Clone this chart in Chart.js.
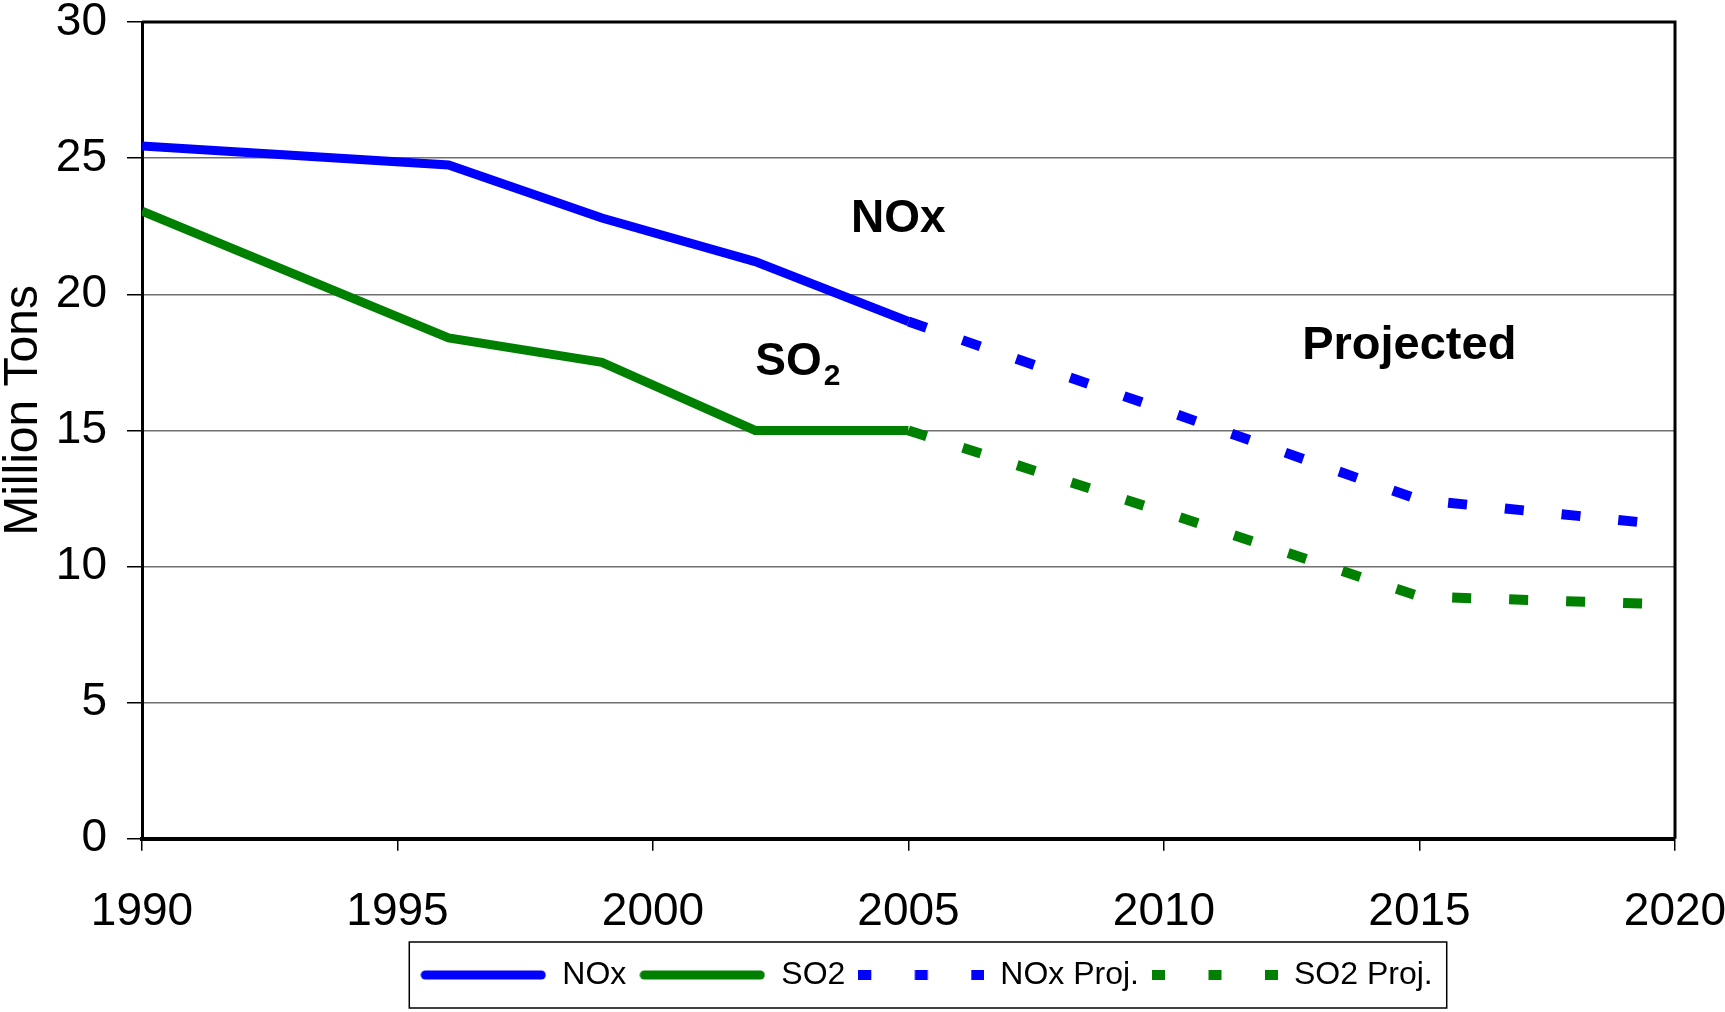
<!DOCTYPE html>
<html>
<head>
<meta charset="utf-8">
<script src="https://cdn.jsdelivr.net/npm/chart.js@4.4.1/dist/chart.umd.min.js"></script>
<style>
html,body{margin:0;padding:0;background:#fff;}
</style>
</head>
<body>
<canvas id="myChart" width="1725" height="1012"></canvas>
<script>
var histYears = [1990, 1996, 1999, 2002, 2005];
var noxValues = [25.45, 24.75, 22.8, 21.2, 19.0];
var so2Values = [23.05, 18.4, 17.5, 15.0, 15.0];
var projYears = [2005, 2010, 2015, 2020];
var noxProj = [19.0, 15.75, 12.45, 11.5];
var so2Proj = [15.0, 12.0, 8.9, 8.6];
var xTicks = [1990, 1995, 2000, 2005, 2010, 2015, 2020];
var yTicks = [0, 5, 10, 15, 20, 25, 30];
var seriesNames = ["NOx", "SO2", "NOx Proj.", "SO2 Proj."];

var blue = "#0000ff";
var green = "#008000";
var fam = '"Liberation Sans", Arial, sans-serif';
Chart.defaults.font.family = fam;

function pts(xs, ys){
  return xs.map(function(x, i){ return {x: x, y: ys[i]}; });
}

// little line samples for the legend (solid or dashed)
function sample(color, dashed){
  var c = document.createElement('canvas');
  c.width = 126; c.height = 14;
  var g = c.getContext('2d');
  g.strokeStyle = color;
  if (dashed) {
    g.lineWidth = 10; g.lineCap = 'butt'; g.setLineDash([13, 43.5]);
    g.beginPath(); g.moveTo(0, 7); g.lineTo(126, 7); g.stroke();
  } else {
    g.lineWidth = 9; g.lineCap = 'round';
    g.beginPath(); g.moveTo(5, 7); g.lineTo(121, 7); g.stroke();
  }
  return c;
}

// plot frame, legend box and the text labels inside the plot
var extras = {
  id: 'extras',
  afterLayout: function(chart){
    chart.legend.left += 65;
    chart.legend.right += 65;
  },
  beforeDatasetsDraw: function(chart){
    var a = chart.chartArea, ctx = chart.ctx;
    ctx.save();
    ctx.strokeStyle = '#000';
    ctx.lineWidth = 3;
    ctx.beginPath();
    ctx.moveTo(a.left, a.top);
    ctx.lineTo(a.right, a.top);
    ctx.lineTo(a.right, a.bottom);
    ctx.stroke();
    ctx.restore();
  },
  afterDraw: function(chart){
    var ctx = chart.ctx, xs = chart.scales.x, ys = chart.scales.y;
    var hb = chart.legend.legendHitBoxes;
    ctx.save();
    // legend border
    var l = hb[0].left - 11, r = hb[hb.length-1].left + hb[hb.length-1].width + 14;
    var cy = hb[0].top + hb[0].height / 2;
    ctx.strokeStyle = '#000';
    ctx.lineWidth = 1.5;
    ctx.strokeRect(l, cy - 33, r - l, 66);

    ctx.fillStyle = '#000';
    ctx.textBaseline = 'middle';
    ctx.font = 'bold 46px ' + fam;
    ctx.textAlign = 'center';
    ctx.fillText('NOx', xs.getPixelForValue(2004.8), ys.getPixelForValue(22.75));
    ctx.font = 'bold 47px ' + fam;
    ctx.fillText('Projected', xs.getPixelForValue(2014.8), ys.getPixelForValue(18.1));
    ctx.font = 'bold 46px ' + fam;
    ctx.textAlign = 'left';
    var sx = xs.getPixelForValue(2002.0), sy = ys.getPixelForValue(17.5);
    ctx.fillText('SO', sx, sy);
    var w = ctx.measureText('SO').width;
    ctx.font = 'bold 30px ' + fam;
    ctx.fillText('2', sx + w + 2, sy + 14);
    ctx.restore();
  }
};

new Chart("myChart", {
  type: "line",
  data: {
    datasets: [{
      label: seriesNames[0],
      data: pts(histYears, noxValues),
      borderColor: blue,
      backgroundColor: blue,
      borderWidth: 9,
      pointStyle: sample(blue, false)
    }, {
      label: seriesNames[1],
      data: pts(histYears, so2Values),
      borderColor: green,
      backgroundColor: green,
      borderWidth: 9,
      pointStyle: sample(green, false)
    }, {
      label: seriesNames[2],
      data: pts(projYears, noxProj),
      borderColor: blue,
      backgroundColor: blue,
      borderWidth: 10,
      borderDash: [19, 38],
      pointStyle: sample(blue, true)
    }, {
      label: seriesNames[3],
      data: pts(projYears, so2Proj),
      borderColor: green,
      backgroundColor: green,
      borderWidth: 10,
      borderDash: [19, 38],
      pointStyle: sample(green, true)
    }]
  },
  options: {
    responsive: false,
    animation: false,
    devicePixelRatio: 1,
    layout: { padding: { top: 0, right: 2, bottom: 11, left: 0 } },
    elements: { point: { radius: 0 }, line: { tension: 0, fill: false } },
    plugins: {
      tooltip: { enabled: false },
      legend: {
        position: 'bottom',
        labels: {
          usePointStyle: true,
          pointStyleWidth: 126,
          color: '#000',
          padding: 13,
          font: { size: 32 }
        }
      }
    },
    scales: {
      x: {
        type: 'linear',
        min: 1990,
        max: 2020,
        afterBuildTicks: function(s){ s.ticks = xTicks.map(function(v){ return {value: v}; }); },
        afterFit: function(s){ s.height -= 28; s.paddingRight = 50; s.paddingLeft = 0; },
        ticks: {
          color: '#000',
          font: { size: 46 },
          padding: 34,
          maxRotation: 0,
          autoSkip: false,
          callback: function(v){ return String(v); }
        },
        grid: { drawOnChartArea: false, drawTicks: true, tickLength: 12, tickColor: '#000', lineWidth: 1.5 },
        border: { color: '#000', width: 4 }
      },
      y: {
        min: 0,
        max: 30,
        afterBuildTicks: function(s){ s.ticks = yTicks.map(function(v){ return {value: v}; }); },
        afterFit: function(s){ s.width = 142; s.paddingTop = 22; s.paddingBottom = 0; },
        ticks: { color: '#000', font: { size: 46, lineHeight: 1 }, padding: 20 },
        grid: { color: '#6f6f6f', lineWidth: 1.5, tickLength: 15, tickColor: '#000' },
        border: { color: '#000', width: 3 },
        title: {
          display: true,
          text: '   Million Tons',
          color: '#000',
          font: { size: 48, lineHeight: 1 },
          padding: { top: 0, bottom: 0 }
        }
      }
    }
  },
  plugins: [extras]
});
</script>
</body>
</html>
